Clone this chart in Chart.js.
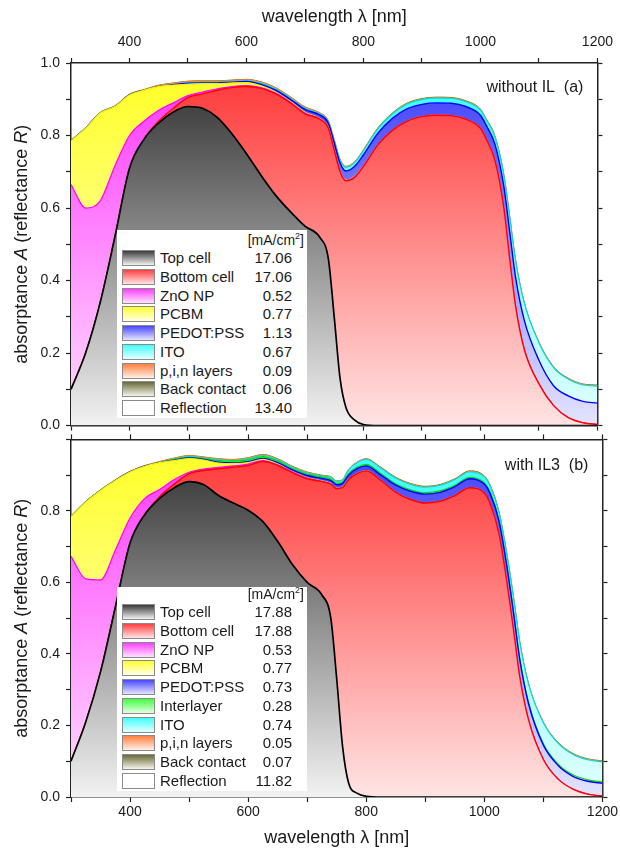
<!DOCTYPE html>
<html>
<head>
<meta charset="utf-8">
<script src="https://cdn.jsdelivr.net/npm/chart.js@4.4.1/dist/chart.umd.min.js"></script>
<style>
  body { margin: 0; background: #fff; width: 620px; height: 853px; position: relative; overflow: hidden;
         font-family: "Liberation Sans", Arial, sans-serif; color: #1a1a1a; }
  canvas { position: absolute; left: 0; }
  #cA { top: 0; }
  #cB { top: 425px; }
  .legend { position: absolute; left: 117px; width: 190px; background: #fff; font-size: 15px; }
  .legend .hdr { position: absolute; right: 3px; font-size: 14px; line-height: 16px; }
  .legend .hdr sup { font-size: 9px; vertical-align: 6px; line-height: 0; }
  .legend .row { position: absolute; left: 0; right: 0; height: 18px; line-height: 18px; }
  .legend .sw { position: absolute; left: 5px; top: 1px; width: 33px; height: 16px; box-sizing: border-box; border: 1px solid #8a8a8a; }
  .legend .nm { position: absolute; left: 43px; }
  .legend .val { position: absolute; right: 15px; }
</style>
</head>
<body>
<canvas id="cA" width="620" height="440"></canvas>
<canvas id="cB" width="620" height="428"></canvas>
<div id="legA" class="legend"></div>
<div id="legB" class="legend"></div>
<script>
// wavelength grid [nm]
const wavelength = [300, 325, 350, 375, 400, 425, 450, 475, 500, 525, 550, 575, 600, 625, 650, 675, 700, 725, 740, 750,
  760, 770, 785, 800, 825, 850, 875, 900, 925, 950, 975, 1000, 1010, 1025, 1040, 1050, 1060, 1075, 1100, 1125,
  1150, 1175, 1200];

// (a) without IL - absorptance of each layer
const topCellA = [0.10, 0.20, 0.34, 0.52, 0.71, 0.79, 0.835, 0.865, 0.88, 0.875, 0.85, 0.805, 0.75, 0.69, 0.635, 0.59, 0.55, 0.52, 0.46, 0.30,
  0.13, 0.05, 0.015, 0.003, 0, 0, 0, 0, 0, 0, 0, 0, 0, 0, 0, 0, 0, 0, 0, 0, 0, 0, 0];
const bottomCellA = [0, 0, 0, 0, 0, 0, 0.005, 0.01, 0.025, 0.04, 0.075, 0.127, 0.185, 0.24, 0.28, 0.30, 0.31, 0.325, 0.36, 0.46,
  0.57, 0.625, 0.67, 0.712, 0.775, 0.815, 0.84, 0.852, 0.856, 0.855, 0.845, 0.82, 0.79, 0.73, 0.60, 0.46, 0.33, 0.21, 0.115, 0.055,
  0.022, 0.008, 0.003];
const znoA = [0.565, 0.40, 0.28, 0.196, 0.09, 0.05, 0.03, 0.015, 0.005, 0.005, 0.004, 0.003, 0.003, 0.002, 0.002, 0.002, 0.002, 0.001, 0.001, 0.001,
  0.001, 0.001, 0.001, 0.001, 0, 0, 0, 0, 0, 0, 0, 0, 0, 0, 0, 0, 0, 0, 0, 0, 0, 0, 0];
const pcbmA = [0.12, 0.22, 0.242, 0.164, 0.112, 0.085, 0.065, 0.049, 0.032, 0.023, 0.014, 0.01, 0.008, 0.005, 0.003, 0.002, 0.002, 0.001, 0.001, 0.001,
  0.001, 0.001, 0.001, 0.001, 0, 0, 0, 0, 0, 0, 0, 0, 0, 0, 0, 0, 0, 0, 0, 0, 0, 0, 0];
const pedotA = [0, 0, 0, 0, 0, 0, 0, 0.001, 0.002, 0.002, 0.002, 0.002, 0.003, 0.004, 0.005, 0.006, 0.008, 0.01, 0.012, 0.018,
  0.022, 0.025, 0.028, 0.03, 0.032, 0.033, 0.034, 0.034, 0.034, 0.034, 0.035, 0.036, 0.038, 0.045, 0.06, 0.075, 0.08, 0.08, 0.065, 0.055,
  0.06, 0.059, 0.059];
const itoA = [0, 0, 0, 0, 0, 0, 0, 0.001, 0.002, 0.002, 0.002, 0.002, 0.002, 0.003, 0.003, 0.003, 0.003, 0.003, 0.004, 0.006,
  0.008, 0.01, 0.01, 0.011, 0.012, 0.012, 0.013, 0.013, 0.013, 0.013, 0.013, 0.014, 0.015, 0.02, 0.03, 0.04, 0.045, 0.047, 0.048, 0.05,
  0.046, 0.045, 0.047];
const pinA = [0.001, 0.001, 0.001, 0.001, 0.001, 0.001, 0.003, 0.003, 0.003, 0.003, 0.003, 0.003, 0.003, 0.003, 0.003, 0.003, 0.003, 0.002, 0.002, 0.002,
  0.002, 0.002, 0.002, 0.002, 0.001, 0.001, 0.001, 0.001, 0.001, 0.001, 0.001, 0.001, 0.001, 0.001, 0.001, 0.001, 0.001, 0.001, 0.001, 0.001,
  0.001, 0.001, 0.001];
const backA = [0.001, 0.001, 0.001, 0.001, 0.001, 0.001, 0.001, 0.001, 0.001, 0.001, 0.001, 0.001, 0.001, 0.001, 0.001, 0.001, 0.001, 0.001, 0.001, 0.001,
  0.001, 0.001, 0.001, 0.001, 0.002, 0.002, 0.002, 0.002, 0.002, 0.002, 0.002, 0.002, 0.002, 0.002, 0.002, 0.002, 0.002, 0.002, 0.002, 0.002,
  0.002, 0.002, 0.002];

// (b) with IL3
const topCellB = [0.10, 0.21, 0.35, 0.53, 0.71, 0.79, 0.835, 0.865, 0.882, 0.873, 0.843, 0.822, 0.802, 0.77, 0.715, 0.65, 0.60, 0.565, 0.50, 0.33,
  0.14, 0.04, 0.01, 0.002, 0, 0, 0, 0, 0, 0, 0, 0, 0, 0, 0, 0, 0, 0, 0, 0, 0, 0, 0];
const bottomCellB = [0, 0, 0, 0, 0, 0, 0.005, 0.01, 0.022, 0.04, 0.075, 0.10, 0.125, 0.168, 0.212, 0.257, 0.29, 0.317, 0.375, 0.532,
  0.725, 0.847, 0.895, 0.91, 0.885, 0.852, 0.832, 0.822, 0.827, 0.843, 0.865, 0.85, 0.82, 0.735, 0.58, 0.46, 0.336, 0.215, 0.105, 0.05,
  0.022, 0.008, 0.002];
const znoB = [0.573, 0.40, 0.257, 0.16, 0.07, 0.045, 0.02, 0.013, 0.004, 0.004, 0.004, 0.004, 0.004, 0.003, 0.002, 0.002, 0.002, 0.001, 0.001, 0.001,
  0.001, 0, 0, 0, 0, 0, 0, 0, 0, 0, 0, 0, 0, 0, 0, 0, 0, 0, 0, 0, 0, 0, 0];
const pcbmB = [0.111, 0.215, 0.25, 0.195, 0.129, 0.09, 0.075, 0.053, 0.038, 0.025, 0.012, 0.006, 0.004, 0.003, 0.002, 0.001, 0.001, 0.001, 0.001, 0.001,
  0.001, 0.001, 0.001, 0.001, 0, 0, 0, 0, 0, 0, 0, 0, 0, 0, 0, 0, 0, 0, 0, 0, 0, 0, 0];
const pedotB = [0, 0, 0, 0, 0, 0, 0, 0.001, 0.002, 0.002, 0.002, 0.002, 0.003, 0.003, 0.004, 0.005, 0.006, 0.007, 0.008, 0.009,
  0.01, 0.012, 0.013, 0.013, 0.015, 0.02, 0.023, 0.025, 0.025, 0.025, 0.025, 0.025, 0.028, 0.035, 0.045, 0.048, 0.048, 0.045, 0.04, 0.038,
  0.036, 0.036, 0.036];
const interB = [0, 0, 0, 0, 0, 0, 0, 0.002, 0.002, 0.002, 0.005, 0.005, 0.005, 0.005, 0.005, 0.004, 0.004, 0.004, 0.004, 0.004,
  0.004, 0.004, 0.004, 0.004, 0.004, 0.004, 0.004, 0.004, 0.004, 0.004, 0.004, 0.004, 0.004, 0.004, 0.004, 0.004, 0.004, 0.004, 0.004, 0.004,
  0.004, 0.004, 0.004];
const itoB = [0, 0, 0, 0, 0, 0, 0, 0.001, 0.002, 0.002, 0.002, 0.002, 0.003, 0.003, 0.003, 0.003, 0.003, 0.003, 0.005, 0.005,
  0.005, 0.01, 0.012, 0.014, 0.015, 0.015, 0.015, 0.015, 0.015, 0.015, 0.015, 0.016, 0.017, 0.02, 0.03, 0.038, 0.045, 0.05, 0.058, 0.058,
  0.057, 0.056, 0.056];
const pinB = [0.001, 0.001, 0.001, 0.001, 0.001, 0.001, 0.002, 0.002, 0.002, 0.002, 0.002, 0.002, 0.002, 0.002, 0.002, 0.002, 0.002, 0.001, 0.001, 0.001,
  0.001, 0.001, 0.001, 0.001, 0.001, 0.001, 0.001, 0.001, 0.001, 0.001, 0.001, 0.001, 0.001, 0.001, 0.001, 0.001, 0.001, 0.001, 0.001, 0.001,
  0.001, 0.001, 0.001];
const backB = [0.001, 0.001, 0.001, 0.001, 0.001, 0.001, 0.001, 0.001, 0.001, 0.001, 0.001, 0.001, 0.001, 0.001, 0.001, 0.001, 0.001, 0.001, 0.001, 0.001,
  0.001, 0.001, 0.001, 0.001, 0.002, 0.002, 0.002, 0.002, 0.002, 0.002, 0.002, 0.002, 0.002, 0.002, 0.002, 0.002, 0.002, 0.002, 0.002, 0.002,
  0.002, 0.002, 0.002];

// photocurrents shown in the legends [mA/cm2]
const currentsA = ['17.06', '17.06', '0.52', '0.77', '1.13', '0.67', '0.09', '0.06', '13.40'];
const currentsB = ['17.88', '17.88', '0.53', '0.77', '0.73', '0.28', '0.74', '0.05', '0.07', '11.82'];

// [top colour, bottom colour, line colour, line width]
const palette = {
  top:    ['#3a3a3a', '#f2f2f2', '#000000', 1.7],
  bottom: ['#ff4040', '#ffe4e4', '#ff0000', 1.4],
  zno:    ['#ff40ff', '#ffe2ff', '#ff00ff', 1.2],
  pcbm:   ['#ffff30', '#ffffe8', '#f0f000', 1.2],
  pedot:  ['#4848ff', '#e4e4ff', '#0000ff', 1.4],
  inter:  ['#40ff40', '#e4ffe4', '#00dd00', 1.2],
  ito:    ['#40ffff', '#e4ffff', '#00e0e0', 1.1],
  pin:    ['#ff8040', '#fff0e8', '#ff8030', 1],
  back:   ['#6a6a3a', '#f4f4ea', '#8a7a20', 1],
  refl:   ['#ffffff', '#ffffff', '#ffffff', 0]
};

const layersA = [
  {name: 'Top cell', key: 'top', data: topCellA},
  {name: 'Bottom cell', key: 'bottom', data: bottomCellA},
  {name: 'ZnO NP', key: 'zno', data: znoA},
  {name: 'PCBM', key: 'pcbm', data: pcbmA},
  {name: 'PEDOT:PSS', key: 'pedot', data: pedotA},
  {name: 'ITO', key: 'ito', data: itoA},
  {name: 'p,i,n layers', key: 'pin', data: pinA},
  {name: 'Back contact', key: 'back', data: backA}
];
const layersB = [
  {name: 'Top cell', key: 'top', data: topCellB},
  {name: 'Bottom cell', key: 'bottom', data: bottomCellB},
  {name: 'ZnO NP', key: 'zno', data: znoB},
  {name: 'PCBM', key: 'pcbm', data: pcbmB},
  {name: 'PEDOT:PSS', key: 'pedot', data: pedotB},
  {name: 'Interlayer', key: 'inter', data: interB},
  {name: 'ITO', key: 'ito', data: itoB},
  {name: 'p,i,n layers', key: 'pin', data: pinB},
  {name: 'Back contact', key: 'back', data: backB}
];

const FONT = '"Liberation Sans", Arial, sans-serif';
const INK = '#1a1a1a';

function fillFor(key) {
  return (c) => {
    const chart = c.chart;
    const [hi, lo] = palette[key];
    if (!chart.chartArea) return hi;
    const y = chart.scales.y;
    const g = chart.ctx.createLinearGradient(0, y.getPixelForValue(0.92), 0, y.getPixelForValue(0));
    g.addColorStop(0, hi);
    g.addColorStop(1, lo);
    return g;
  };
}

const textPlugin = {
  id: 'panelText',
  afterDraw(chart, args, opts) {
    const {ctx, chartArea} = chart;
    ctx.save();
    ctx.fillStyle = INK;
    ctx.textBaseline = 'middle';
    // y title with italic symbols
    const parts = [['absorptance ', ''], ['A', 'italic '], [' (reflectance ', ''], ['R', 'italic '], [')', '']];
    let total = 0;
    parts.forEach(p => { ctx.font = p[1] + '18px ' + FONT; p.w = ctx.measureText(p[0]).width; total += p.w; });
    ctx.translate(22, (chartArea.top + chartArea.bottom) / 2);
    ctx.rotate(-Math.PI / 2);
    let x = -total / 2;
    ctx.textAlign = 'left';
    parts.forEach(p => { ctx.font = p[1] + '18px ' + FONT; ctx.fillText(p[0], x, 0); x += p.w; });
    ctx.setTransform(1, 0, 0, 1, 0, 0);
    ctx.font = '16px ' + FONT;
    ctx.textAlign = 'right';
    ctx.fillText(opts.label, chartArea.right - 14, chartArea.top + opts.labelDy);
    ctx.restore();
  }
};

function axisX(position, showLabels, height, title, pad) {
  return {
    type: 'linear', position: position, min: 300, max: 1200,
    border: {display: true, color: '#222', width: 1.5},
    grid: {drawOnChartArea: false, color: '#222', tickLength: 5, tickWidth: 1.2},
    ticks: {display: showLabels, stepSize: 100, autoSkip: false, maxRotation: 0, color: INK, padding: pad,
      font: {family: FONT, size: 14}, callback: v => (v % 200 === 0 ? String(v) : '')},
    title: title ? {display: true, text: 'wavelength \u03bb [nm]', color: INK, font: {family: FONT, size: 18},
      padding: position === 'top' ? {top: 6, bottom: 0} : {top: 0, bottom: 4}} : {display: false},
    afterFit: s => { s.height = height; }
  };
}

function axisY(position, showLabels, width, maxLabel, stacked) {
  return {
    type: 'linear', position: position, min: 0, max: 1, stacked: stacked,
    border: {display: true, color: '#222', width: 1.5},
    grid: {drawOnChartArea: false, color: '#222', tickLength: 5, tickWidth: 1.2},
    ticks: {display: showLabels, stepSize: 0.1, autoSkip: false, color: INK, padding: 6,
      font: {family: FONT, size: 14},
      callback: v => {
        const t = Math.round(v * 10);
        return (t % 2 === 0 && t <= maxLabel * 10) ? (t / 10).toFixed(1) : '';
      }},
    afterFit: s => { s.width = width; }
  };
}

function makeChart(id, layers, isTop) {
  const datasets = layers.map((l, i) => ({
    label: l.name,
    data: wavelength.map((x, j) => ({x: x, y: l.data[j]})),
    backgroundColor: fillFor(l.key),
    borderColor: palette[l.key][2],
    borderWidth: palette[l.key][3],
    fill: i === 0 ? 'origin' : '-1',
    pointRadius: 0,
    cubicInterpolationMode: 'monotone'
  }));
  const scales = isTop ? {
    x: axisX('top', true, 63, true, 7),
    x2: axisX('bottom', false, 6, false, 0),
    y: axisY('left', true, 71, 1.0, true),
    y2: axisY('right', false, 6, 1.0, false)
  } : {
    x: axisX('bottom', true, 56, true, 2),
    x2: axisX('top', false, 6, false, 0),
    y: axisY('left', true, 71, 0.8, true),
    y2: axisY('right', false, 6, 1.0, false)
  };
  return new Chart(document.getElementById(id), {
    type: 'line',
    data: {datasets: datasets},
    options: {
      responsive: false, animation: false, devicePixelRatio: 1,
      layout: {padding: isTop ? {left: 0, right: 11, top: 0, bottom: 5} : {left: 0, right: 11, top: 0, bottom: 0}},
      scales: scales,
      plugins: {
        legend: {display: false}, tooltip: {enabled: false},
        panelText: isTop ? {label: 'without IL  (a)', labelDy: 25} : {label: 'with IL3  (b)', labelDy: 26}
      }
    },
    plugins: [textPlugin]
  });
}

function buildLegend(id, layers, currents, top, firstRow) {
  const box = document.getElementById(id);
  const items = layers.concat([{name: 'Reflection', key: 'refl'}]);
  box.style.top = top + 'px';
  box.style.height = (firstRow + (items.length - 1) * 18.75 + 10) + 'px';
  let html = '<div class="hdr" style="top:' + (firstRow - 26) + 'px">[mA/cm<sup>2</sup>]</div>';
  items.forEach((l, i) => {
    const c = palette[l.key];
    html += '<div class="row" style="top:' + (firstRow - 9 + i * 18.75) + 'px">' +
      '<div class="sw" style="background:linear-gradient(to bottom,' + c[0] + ',' + c[1] + ')"></div>' +
      '<div class="nm">' + l.name + '</div><div class="val">' + currents[i] + '</div></div>';
  });
  box.innerHTML = html;
}

makeChart('cA', layersA, true);
makeChart('cB', layersB, false);
buildLegend('legA', layersA, currentsA, 230, 28);
buildLegend('legB', layersB, currentsB, 587, 25);
</script>
</body>
</html>
